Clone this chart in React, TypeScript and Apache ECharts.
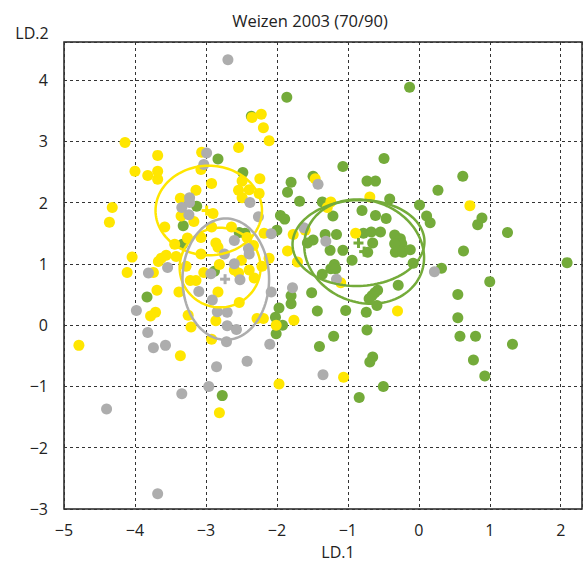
import React, { useEffect, useRef } from 'react';
import * as echarts from 'echarts';

const FONT = '"Open Sans", "Noto Sans", sans-serif';

const xTicks = [-5, -4, -3, -2, -1, 0, 1, 2];
const yTicks = [-3, -2, -1, 0, 1, 2, 3, 4];

const yellowPts = [
  [-4.14, 2.98], [-3.68, 2.77], [-4.0, 2.51], [-3.82, 2.44], [-3.68, 2.51], [-3.68, 2.38], [-4.32, 1.92], [-4.36, 1.68],
  [-3.58, 1.6], [-2.35, 3.39], [-2.22, 3.44], [-2.19, 3.22], [-2.11, 3.01], [-2.54, 2.9], [-3.06, 2.82], [-3.07, 2.54],
  [-2.49, 2.35], [-2.24, 2.39], [-2.92, 2.31], [-2.39, 2.21], [-2.54, 2.2], [-2.25, 2.15], [-2.49, 2.08], [-3.14, 2.2],
  [-3.36, 2.07], [-2.9, 1.82], [-3.35, 1.78], [-3.17, 1.69], [-2.92, 1.6], [-2.64, 1.6], [-2.18, 1.5], [-3.26, 1.42],
  [-3.07, 1.43], [-2.42, 1.43], [-1.77, 1.48], [-1.6, 1.55], [-1.46, 2.39], [-1.24, 2.01], [-1.29, 1.92], [-0.69, 2.09],
  [-0.89, 1.5], [0.72, 1.95], [-3.44, 1.32], [-3.56, 1.14], [-3.63, 1.09], [-3.67, 1.04], [-3.42, 1.12], [-3.28, 0.96],
  [-3.07, 1.16], [-2.86, 1.34], [-2.83, 1.27], [-2.33, 1.3], [-2.81, 0.99], [-2.5, 1.06], [-2.21, 0.96], [-2.11, 1.09],
  [-2.6, 0.9], [-2.54, 0.85], [-2.39, 0.9], [-3.03, 0.86], [-3.22, 0.73], [-3.14, 0.73], [-2.32, 0.77], [-1.85, 1.21],
  [-1.71, 1.03], [-4.04, 1.11], [-4.11, 0.86], [-3.74, 0.86], [-3.69, 0.57], [-3.38, 0.54], [-2.83, 0.54], [-2.53, 0.37],
  [-3.71, 0.21], [-3.78, 0.15], [-3.25, 0.16], [-3.21, -0.03], [-2.86, 0.07], [-2.28, 0.11], [-2.19, 0.11], [-2.01, 0.0],
  [-2.92, -0.23], [-4.79, -0.33], [-3.36, -0.5], [-2.81, -1.43], [-1.76, 0.08], [-1.1, 0.69], [-0.3, 0.23], [-1.06, -0.85],
  [-1.97, -0.96],
];

const grayPts = [
  [-2.69, 4.33], [-2.99, 2.81], [-3.03, 2.62], [-2.38, 2.0], [-3.23, 2.08], [-3.23, 2.0], [-3.34, 1.92], [-3.24, 1.8],
  [-2.26, 1.77], [-2.08, 1.49], [-2.6, 1.38], [-2.4, 1.25], [-2.39, 1.16], [-2.74, 1.16], [-2.6, 1.0], [-2.93, 0.84],
  [-2.52, 0.74], [-3.1, 0.55], [-2.91, 0.41], [-2.08, 0.54], [-2.84, 0.22], [-2.7, 0.21], [-2.7, -0.01], [-2.57, -0.07],
  [-3.81, 0.85], [-3.54, 0.94], [-3.98, 0.24], [-3.82, -0.12], [-3.74, -0.37], [-3.57, -0.33], [-2.71, -0.27], [-2.1, -0.31],
  [-2.42, -0.59], [-2.85, -0.68], [-2.96, -1.0], [-3.34, -1.12], [-4.4, -1.37], [-3.68, -2.75], [-1.42, 2.3], [-1.62, 1.59],
  [-1.31, 1.37], [-1.78, 0.61], [-1.16, 0.75], [0.22, 0.87], [-1.35, -0.81],
];

const greenPts = [
  [-2.36, 3.41], [-2.83, 2.71], [-2.48, 2.49], [-3.13, 1.94], [-3.32, 1.62], [-1.95, 1.79], [-1.89, 1.73], [-2.0, 1.55],
  [-2.53, 1.51], [-2.45, 1.5], [-1.86, 3.72], [-0.13, 3.88], [-1.07, 2.59], [-0.49, 2.72], [0.27, 2.2], [-1.49, 2.43],
  [-1.8, 2.33], [-1.85, 2.17], [-1.68, 2.02], [-1.36, 2.01], [-1.21, 1.78], [-0.73, 2.35], [-0.61, 2.35], [-0.41, 2.06],
  [0.01, 1.96], [-0.8, 1.87], [-0.61, 1.79], [-0.46, 1.74], [0.11, 1.78], [0.16, 1.67], [-1.32, 1.48], [-1.16, 1.48],
  [-0.78, 1.5], [-0.67, 1.52], [-0.54, 1.52], [-0.34, 1.47], [-0.26, 1.41], [-0.24, 1.33], [-0.34, 1.33], [-1.49, 1.39],
  [-1.57, 1.34], [-0.65, 1.34], [-0.72, 1.19], [-1.25, 1.22], [-1.07, 1.22], [-0.33, 1.19], [-0.23, 1.19], [-0.12, 1.23],
  [-0.94, 1.06], [-0.08, 1.01], [-1.19, 0.99], [-1.24, 0.92], [-1.17, 0.92], [-1.36, 0.83], [0.32, 0.93], [-0.29, 0.65],
  [-0.58, 0.57], [-0.62, 0.53], [-0.66, 0.48], [-0.7, 0.43], [-1.51, 0.53], [-1.8, 0.48], [-1.8, 0.35], [-1.97, 0.28],
  [-1.43, 0.23], [-1.03, 0.24], [-0.74, 0.21], [-0.59, 0.32], [-2.02, 0.13], [-1.92, 0.0], [-2.01, -0.14], [-0.73, -0.08],
  [-1.2, -0.18], [-1.4, -0.35], [-0.65, -0.52], [-0.69, -0.6], [-0.5, -1.0], [-0.84, -1.18], [-2.77, -1.15], [-3.83, 0.46],
  [-2.88, 0.88], [0.62, 2.43], [0.89, 1.75], [0.83, 1.64], [1.25, 1.51], [0.63, 1.21], [2.09, 1.02], [1.0, 0.71],
  [0.55, 0.5], [0.55, 0.12], [0.58, -0.18], [0.8, -0.18], [1.32, -0.31], [0.77, -0.57], [0.93, -0.83], [-3.33, 1.32],
];

// group ellipses (centre, radii in data units, tilt in degrees)
const ellipseCx = [-2.96, -2.8, -2.72, -0.85, -0.77];
const ellipseCy = [1.87, 0.94, 0.75, 1.34, 1.2];
const ellipseRx = [0.75, 0.57, 0.61, 0.93, 0.86];
const ellipseRy = [0.73, 0.65, 0.99, 0.7, 0.83];
const ellipseTilt = [0, 0, 0, -2, 20];
const ellipseGroup = [0, 0, 1, 2, 2];

// group centroids
const centroidX = [-2.99, -2.73, -0.85, -0.77];
const centroidY = [1.87, 0.75, 1.34, 1.2];
const centroidGroup = [0, 1, 2, 2];

const COLORS = ['#FFE600', '#ADADAD', '#74AB3A'];

const fmt = (v: number) => (v < 0 ? '\u2212' + Math.abs(v) : String(v));

export default function App() {
  const ref = useRef<HTMLDivElement>(null);

  useEffect(() => {
    document.body.style.margin = '0';
    const chart = echarts.init(ref.current as HTMLDivElement, null, { renderer: 'svg' });

    const scatter = (data: number[][], color: string) => ({
      type: 'scatter',
      data,
      symbol: 'circle',
      symbolSize: 11,
      itemStyle: { color, opacity: 1 },
      silent: true,
    });

    const option = {
      animation: false,
      grid: {
        left: 64,
        top: 42,
        right: -5,
        bottom: 59,
        show: true,
        borderColor: '#222',
        borderWidth: 1.5,
        backgroundColor: 'transparent',
      },
      xAxis: {
        type: 'value',
        min: -5,
        max: 2.3,
        interval: 1,
        axisLine: { show: false },
        axisTick: { show: false },
        axisLabel: {
          formatter: (v: number) => (xTicks.includes(v) ? fmt(v) : ''),
          fontSize: 16,
          color: '#222',
          margin: 13,
          fontFamily: FONT,
        },
        splitLine: { show: true, lineStyle: { type: [3, 3], color: '#333', width: 1 } },
      },
      yAxis: {
        type: 'value',
        min: -3,
        max: 4.62,
        interval: 1,
        axisLine: { show: false },
        axisTick: { show: false },
        axisLabel: {
          formatter: (v: number) => (yTicks.includes(v) ? fmt(v) : ''),
          fontSize: 16,
          color: '#222',
          margin: 16,
          fontFamily: FONT,
        },
        splitLine: { show: true, lineStyle: { type: [3, 3], color: '#333', width: 1 } },
      },
      graphic: [
        {
          type: 'text',
          x: 310,
          y: 20,
          style: {
            text: 'Weizen 2003 (70/90)',
            fontSize: 16.5,
            fontFamily: FONT,
            fill: '#222',
            align: 'center',
            verticalAlign: 'middle',
          },
        },
        {
          type: 'text',
          x: 32,
          y: 33,
          style: { text: 'LD.2', fontSize: 16, fontFamily: FONT, fill: '#222', align: 'center', verticalAlign: 'middle' },
        },
        {
          type: 'text',
          x: 338,
          y: 552,
          style: { text: 'LD.1', fontSize: 16, fontFamily: FONT, fill: '#222', align: 'center', verticalAlign: 'middle' },
        },
      ],
      series: [
        scatter(greenPts, COLORS[2]),
        scatter(yellowPts, COLORS[0]),
        scatter(grayPts, COLORS[1]),
        {
          type: 'custom',
          coordinateSystem: 'cartesian2d',
          silent: true,
          z: 10,
          data: ellipseCx.map((cx, i) => [cx, ellipseCy[i], ellipseRx[i], ellipseRy[i], ellipseTilt[i], ellipseGroup[i]]),
          renderItem: (params: any, api: any) => {
            const c = api.coord([api.value(0), api.value(1)]);
            const s = api.size([api.value(2), api.value(3)]);
            const th = (api.value(4) * Math.PI) / 180;
            const pts: number[][] = [];
            const n = 120;
            for (let k = 0; k < n; k++) {
              const t = (k / n) * Math.PI * 2;
              const ex = s[0] * Math.cos(t);
              const ey = s[1] * Math.sin(t);
              pts.push([c[0] + ex * Math.cos(th) - ey * Math.sin(th), c[1] + ex * Math.sin(th) + ey * Math.cos(th)]);
            }
            return {
              type: 'polygon',
              shape: { points: pts },
              style: { fill: 'none', stroke: COLORS[api.value(5)], lineWidth: 2.5 },
            };
          },
        },
        {
          type: 'custom',
          coordinateSystem: 'cartesian2d',
          silent: true,
          z: 11,
          data: centroidX.map((cx, i) => [cx, centroidY[i], centroidGroup[i]]),
          renderItem: (params: any, api: any) => {
            const c = api.coord([api.value(0), api.value(1)]);
            const col = COLORS[api.value(2)];
            return {
              type: 'group',
              children: [
                { type: 'rect', shape: { x: c[0] - 5, y: c[1] - 1.5, width: 10, height: 3 }, style: { fill: col } },
                { type: 'rect', shape: { x: c[0] - 1.5, y: c[1] - 5, width: 3, height: 10 }, style: { fill: col } },
              ],
            };
          },
        },
      ],
    };

    chart.setOption(option as any);
    return () => chart.dispose();
  }, []);

  return <div ref={ref} style={{ width: 585, height: 568 }} />;
}
